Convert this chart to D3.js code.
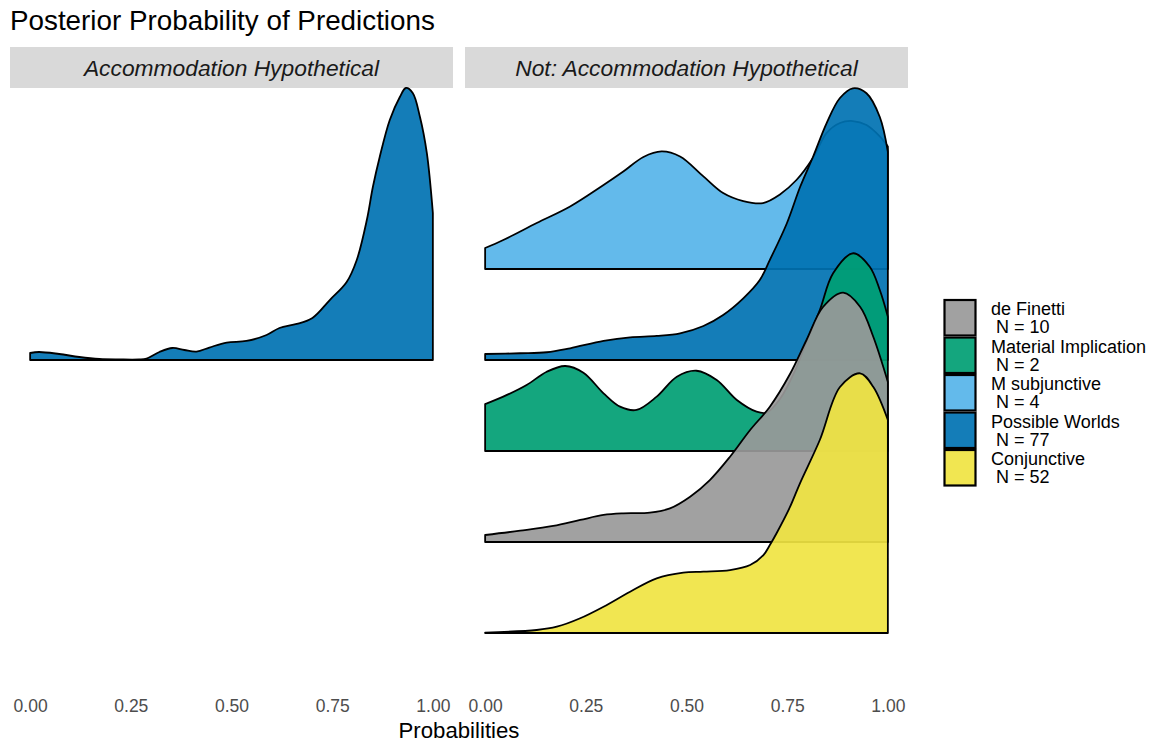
<!DOCTYPE html>
<html>
<head>
<meta charset="utf-8">
<script src="https://cdn.jsdelivr.net/npm/d3@7"></script>
<style>
  html, body { margin: 0; padding: 0; background: #ffffff; }
  svg { display: block; font-family: "Liberation Sans", Arial, Helvetica, sans-serif; }
</style>
</head>
<body>
<svg id="chart" width="1156" height="742"></svg>
<script>
// Ridge rows, bottom to top
const ridgeOrder = ["Conjunctive", "de Finetti", "Material Implication", "Possible Worlds", "M subjunctive"];
// Legend entries and sample sizes
const legendOrder = ["de Finetti", "Material Implication", "M subjunctive", "Possible Worlds", "Conjunctive"];
const legendN = [10, 2, 4, 77, 52];
const panelTitles = ["Accommodation Hypothetical", "Not: Accommodation Hypothetical"];
const xTicks = [0, 0.25, 0.5, 0.75, 1];
const xTickLabels = ["0.00", "0.25", "0.50", "0.75", "1.00"];
const fillColors = {
  "de Finetti": "#999999",
  "Material Implication": "#009E73",
  "M subjunctive": "#56B4E9",
  "Possible Worlds": "#0072B2",
  "Conjunctive": "#F0E442"
};

// Scaled densities: [probability, height in ridge-spacing units]
const accomPossibleWorlds = [
  [0, 0.077], [0.022, 0.088], [0.072, 0.066], [0.122, 0.033], [0.172, 0.011],
  [0.221, 0.006], [0.271, 0.006], [0.289, 0.016], [0.321, 0.088], [0.353, 0.132],
  [0.383, 0.110], [0.413, 0.093], [0.445, 0.137], [0.488, 0.192], [0.537, 0.209],
  [0.587, 0.275], [0.619, 0.352], [0.662, 0.396], [0.701, 0.462], [0.744, 0.659],
  [0.786, 0.857], [0.811, 1.099], [0.836, 1.538], [0.851, 1.901], [0.868, 2.231],
  [0.893, 2.637], [0.918, 2.890], [0.933, 2.989], [0.950, 2.934], [0.968, 2.670],
  [0.985, 2.275], [1, 1.615]
];
const notMSubjunctive = [
  [0, 0.231], [0.045, 0.319], [0.128, 0.505], [0.211, 0.687], [0.294, 0.923],
  [0.343, 1.071], [0.393, 1.231], [0.438, 1.292], [0.484, 1.237], [0.542, 1.018],
  [0.591, 0.835], [0.641, 0.747], [0.690, 0.725], [0.732, 0.820], [0.773, 0.978],
  [0.814, 1.220], [0.848, 1.495], [0.881, 1.604], [0.913, 1.626], [0.947, 1.582],
  [0.980, 1.457], [1, 1.347]
];
const notPossibleWorlds = [
  [0, 0.066], [0.087, 0.074], [0.153, 0.085], [0.211, 0.129], [0.294, 0.209],
  [0.360, 0.249], [0.426, 0.264], [0.484, 0.293], [0.542, 0.374], [0.591, 0.495],
  [0.641, 0.678], [0.682, 0.879], [0.707, 1.100], [0.749, 1.500], [0.782, 1.901],
  [0.814, 2.231], [0.848, 2.604], [0.881, 2.879], [0.913, 2.986], [0.947, 2.931],
  [0.980, 2.670], [1, 2.286]
];
const notMaterialImplication = [
  [0, 0.516], [0.045, 0.597], [0.103, 0.725], [0.153, 0.871], [0.199, 0.934],
  [0.244, 0.860], [0.294, 0.634], [0.335, 0.487], [0.376, 0.451], [0.426, 0.597],
  [0.476, 0.816], [0.525, 0.882], [0.575, 0.780], [0.625, 0.560], [0.674, 0.432],
  [0.699, 0.421], [0.732, 0.571], [0.769, 0.879], [0.801, 1.231], [0.831, 1.549],
  [0.864, 1.953], [0.914, 2.173], [0.955, 2.025], [0.980, 1.769], [1, 1.476]
];
const notDeFinetti = [
  [0, 0.077], [0.087, 0.124], [0.169, 0.176], [0.236, 0.242], [0.294, 0.297],
  [0.343, 0.315], [0.409, 0.322], [0.459, 0.370], [0.509, 0.498], [0.558, 0.681],
  [0.608, 0.937], [0.658, 1.231], [0.707, 1.487], [0.757, 1.846], [0.798, 2.220],
  [0.839, 2.582], [0.889, 2.740], [0.931, 2.586], [0.964, 2.253], [1, 1.758]
];
const notConjunctive = [
  [0, 0.005], [0.128, 0.033], [0.178, 0.069], [0.236, 0.162], [0.294, 0.289],
  [0.360, 0.454], [0.426, 0.601], [0.492, 0.663], [0.542, 0.674], [0.608, 0.692],
  [0.658, 0.747], [0.691, 0.857], [0.707, 0.967], [0.724, 1.099], [0.757, 1.385],
  [0.782, 1.648], [0.831, 2.121], [0.881, 2.703], [0.931, 2.854], [0.964, 2.703],
  [1, 2.341]
];

// Which ridges each panel holds, in drawing order (top row first)
const panelRidges = [
  [{ group: "Possible Worlds", values: accomPossibleWorlds }],
  [
    { group: "M subjunctive", values: notMSubjunctive },
    { group: "Possible Worlds", values: notPossibleWorlds },
    { group: "Material Implication", values: notMaterialImplication },
    { group: "de Finetti", values: notDeFinetti },
    { group: "Conjunctive", values: notConjunctive }
  ]
];

// ---- Layout ----
const svg = d3.select("#chart");
const panelX = [[10, 453], [465, 908]];
const stripTop = 47, stripBottom = 88;
const fillAlpha = 0.92;

// Ridge baselines
const yBase = d3.scalePoint().domain(ridgeOrder).range([633, 269]);
const hScale = d3.scaleLinear().domain([0, 1]).range([0, yBase.step()]);

// Title
svg.append("text")
  .attr("x", 10).attr("y", 30)
  .attr("font-size", 27.8).attr("fill", "#000")
  .text("Posterior Probability of Predictions");

panelTitles.forEach((title, i) => {
  const [x0, x1] = panelX[i];
  const pad = (x1 - x0) / 1.1 * 0.05;
  const x = d3.scaleLinear().domain([0, 1]).range([x0 + pad, x1 - pad]);

  // Facet strip
  svg.append("rect")
    .attr("x", x0).attr("y", stripTop)
    .attr("width", x1 - x0).attr("height", stripBottom - stripTop)
    .attr("fill", "#d9d9d9");
  svg.append("text")
    .attr("x", (x0 + x1) / 2).attr("y", 76)
    .attr("text-anchor", "middle")
    .attr("font-size", 22.8).attr("font-style", "italic")
    .attr("fill", "#1a1a1a")
    .text(title);

  // Ridges
  const g = svg.append("g");
  panelRidges[i].forEach(r => {
    const base = yBase(r.group);
    const area = d3.area()
      .x(d => x(d[0]))
      .y0(base)
      .y1(d => Math.min(base, base - hScale(d[1])))
      .curve(d3.curveCatmullRom.alpha(0.5));
    g.append("path")
      .datum(r.values)
      .attr("d", area)
      .attr("fill", fillColors[r.group])
      .attr("fill-opacity", fillAlpha)
      .attr("stroke", "#000")
      .attr("stroke-width", 1.8)
      .attr("stroke-linejoin", "round");
  });

  // Bottom axis labels
  const axis = d3.axisBottom(x)
    .tickValues(xTicks)
    .tickFormat((d, j) => xTickLabels[j])
    .tickSize(0).tickPadding(0);
  const ag = svg.append("g").attr("transform", "translate(0,700)").call(axis);
  ag.select(".domain").remove();
  ag.selectAll("text")
    .attr("font-size", 17.5)
    .attr("fill", "#4d4d4d")
    .attr("dy", "0.71em")
    .style("font-family", "'Liberation Sans', Arial, sans-serif");
});

// Axis title
svg.append("text")
  .attr("x", (panelX[0][0] + panelX[1][1]) / 2).attr("y", 738)
  .attr("text-anchor", "middle")
  .attr("font-size", 22.2).attr("fill", "#000")
  .text("Probabilities");

// Legend
const keyW = 33, keyH = 37.5, keyX = 943.5, keyTop = 299;
const legend = svg.append("g");
legendOrder.forEach((name, i) => {
  const y0 = keyTop + i * keyH;
  legend.append("rect")
    .attr("x", keyX).attr("y", y0)
    .attr("width", keyW).attr("height", keyH)
    .attr("fill", "#fff");
  legend.append("rect")
    .attr("x", keyX + 1).attr("y", y0 + 1)
    .attr("width", keyW - 2).attr("height", keyH - 2)
    .attr("fill", fillColors[name]).attr("fill-opacity", fillAlpha)
    .attr("stroke", "#000").attr("stroke-width", 2.2);
  const t = legend.append("text")
    .attr("x", 991).attr("y", y0 + 16)
    .attr("font-size", 18).attr("fill", "#000")
    .style("white-space", "pre");
  t.append("tspan").attr("x", 991).text(name);
  t.append("tspan").attr("x", 991).attr("dy", 18.3).text(" N = " + legendN[i]);
});
</script>
</body>
</html>
